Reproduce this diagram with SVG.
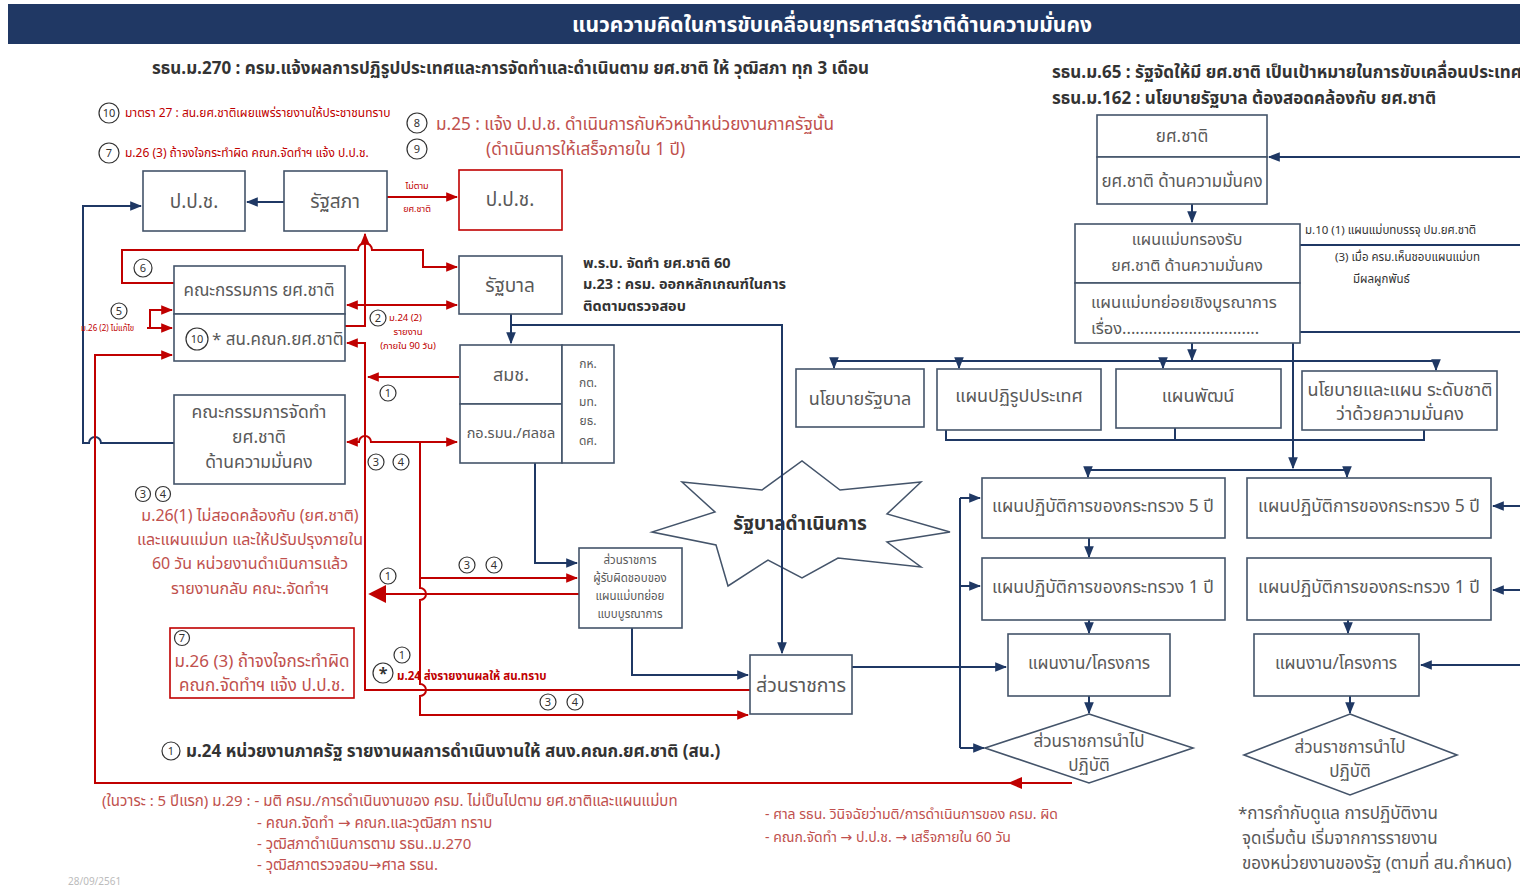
<svg xmlns="http://www.w3.org/2000/svg" width="1520" height="888" viewBox="0 0 1520 888">
<defs>
<style>
text{font-family:"Noto Sans Thai","Noto Sans Thai UI","Tahoma","DejaVu Sans","Noto Sans",sans-serif;fill:#595959}
.box{fill:#fff;stroke:#44546a;stroke-width:1.6}
.rbox{fill:#fff;stroke:#c00000;stroke-width:1.6}
.bt{font-size:17px;text-anchor:middle}
.hd{font-size:17px;font-weight:bold;fill:#333}
.rt{fill:#c0504d}
.rs{font-size:12px;fill:#c00000}
.nv{fill:none;stroke:#1f3864;stroke-width:2}
.rd{fill:none;stroke:#c00000;stroke-width:2}
.cn{fill:#fff;stroke:#333;stroke-width:1.2}
.cnt{font-size:11px;text-anchor:middle;fill:#333}
</style>
<marker id="an" viewBox="0 0 10 10" refX="9" refY="5" markerWidth="6" markerHeight="6" orient="auto-start-reverse"><path d="M0,1 L10,5 L0,9 z" fill="#1f3864"/></marker>
<marker id="ar" viewBox="0 0 10 10" refX="9" refY="5" markerWidth="6" markerHeight="6" orient="auto-start-reverse"><path d="M0,1 L10,5 L0,9 z" fill="#c00000"/></marker>
<marker id="arb" viewBox="0 0 10 10" refX="9" refY="5" markerWidth="9" markerHeight="9" orient="auto-start-reverse"><path d="M0,0 L10,5 L0,10 z" fill="#c00000"/></marker>
</defs>
<rect width="1520" height="888" fill="#fff"/>
<rect x="8" y="4" width="1512" height="40" fill="#203864"/>
<text x="832" y="32" style="font-size:21px;font-weight:bold;fill:#fff;text-anchor:middle">แนวความคิดในการขับเคลื่อนยุทธศาสตร์ชาติด้านความมั่นคง</text>

<text class="hd" x="152" y="74">รธน.ม.270 : ครม.แจ้งผลการปฏิรูปประเทศและการจัดทำและดำเนินตาม ยศ.ชาติ ให้ วุฒิสภา ทุก 3 เดือน</text>
<text class="hd" x="1052" y="78">รธน.ม.65 : รัฐจัดให้มี ยศ.ชาติ เป็นเป้าหมายในการขับเคลื่อนประเทศ</text>
<text class="hd" x="1052" y="104">รธน.ม.162 : นโยบายรัฐบาล ต้องสอดคล้องกับ ยศ.ชาติ</text>

<g id="notes-top">
<circle class="cn" cx="109" cy="113" r="10"/><text class="cnt" x="109" y="117">10</text>
<text class="rs" x="125" y="117">มาตรา 27 : สน.ยศ.ชาติเผยแพร่รายงานให้ประชาชนทราบ</text>
<circle class="cn" cx="109" cy="153" r="10"/><text class="cnt" x="109" y="157">7</text>
<text class="rs" x="125" y="157">ม.26 (3) ถ้าจงใจกระทำผิด คณก.จัดทำฯ แจ้ง ป.ป.ช.</text>
<circle class="cn" cx="417" cy="123" r="10"/><text class="cnt" x="417" y="127">8</text>
<text class="rt" x="436" y="130" style="font-size:17.2px">ม.25 : แจ้ง ป.ป.ช. ดำเนินการกับหัวหน้าหน่วยงานภาครัฐนั้น</text>
<circle class="cn" cx="417" cy="149" r="10"/><text class="cnt" x="417" y="153">9</text>
<text class="rt" x="486" y="155" style="font-size:17.2px">(ดำเนินการให้เสร็จภายใน 1 ปี)</text>
</g>

<g id="connectors">
<path class="nv" d="M284,202 H247" marker-end="url(#an)"/>
<path class="nv" d="M174,443 H101 a6,6 0 0 0 -12,0 H83 V206 H141" marker-end="url(#an)"/>
<path class="nv" d="M511,314 V343" marker-end="url(#an)"/>
<path class="nv" d="M511,325 H782 V653" marker-end="url(#an)"/>
<path class="nv" d="M535,463 V563 H577" marker-end="url(#an)"/>
<path class="nv" d="M632,628 V675 H748" marker-end="url(#an)"/>
<path class="nv" d="M852,667 H1006" marker-end="url(#an)"/>
<path class="nv" d="M960,498 V748"/>
<path class="nv" d="M960,498 H980" marker-end="url(#an)"/>
<path class="nv" d="M960,586 H980" marker-end="url(#an)"/>
<path class="nv" d="M960,748 H984" marker-end="url(#an)"/>
<path class="nv" d="M1520,157 H1269" marker-end="url(#an)"/>
<path class="nv" d="M1192,204 V222" marker-end="url(#an)"/>
<path class="nv" d="M1300,245 H1520"/>
<path class="nv" d="M1300,332 H1520"/>
<path class="nv" d="M1192,343 V360" marker-end="url(#an)"/>
<path class="nv" d="M834,361 H1437"/>
<path class="nv" d="M834,361 V368" marker-end="url(#an)"/>
<path class="nv" d="M959,361 V368" marker-end="url(#an)"/>
<path class="nv" d="M1163,361 V368" marker-end="url(#an)"/>
<path class="nv" d="M1436,361 V370" marker-end="url(#an)"/>
<path class="nv" d="M946,430 V440 H1424 V430 M1175,428 V440"/>
<path class="nv" d="M1293,343 V468" marker-end="url(#an)"/>
<path class="nv" d="M1088,470 H1347"/>
<path class="nv" d="M1088,470 V477" marker-end="url(#an)"/>
<path class="nv" d="M1347,470 V477" marker-end="url(#an)"/>
<path class="nv" d="M1089,538 V557" marker-end="url(#an)"/>
<path class="nv" d="M1089,620 V633" marker-end="url(#an)"/>
<path class="nv" d="M1089,696 V713" marker-end="url(#an)"/>
<path class="nv" d="M1348,620 V633" marker-end="url(#an)"/>
<path class="nv" d="M1350,696 V713" marker-end="url(#an)"/>
<path class="nv" d="M1520,506 H1493" marker-end="url(#an)"/>
<path class="nv" d="M1520,590 H1493" marker-end="url(#an)"/>
<path class="nv" d="M1520,665 H1421" marker-end="url(#an)"/>
<path class="rd" d="M387,197 H457" marker-end="url(#ar)"/>
<path class="rd" d="M174,283 H122 V250 H358 a7,7 0 0 1 14,0 H423 V267 H457" marker-end="url(#ar)"/>
<path class="rd" d="M345,326 H365 V234" marker-end="url(#ar)"/>
<path class="rd" d="M347,305 H457" marker-start="url(#ar)" marker-end="url(#ar)"/>
<path class="rd" d="M147,328 H172" marker-end="url(#ar)"/>
<path class="rd" d="M150,328 V310 H172" marker-end="url(#ar)"/>
<path class="rd" d="M1072,783 H95 V355 H172" marker-end="url(#ar)"/>
<path d="M1008,783 L1022,777 L1022,789 z" fill="#c00000"/>
<path class="rd" d="M459,377 H368" marker-end="url(#ar)"/>
<path class="rd" d="M347,442 H359 a6,6 0 0 1 12,0 H457" marker-start="url(#ar)" marker-end="url(#ar)"/>
<path class="rd" d="M420,442 V588 a6,6 0 0 1 0,12 V684 a6,6 0 0 1 0,12 V715 H748" marker-end="url(#ar)"/>
<path class="rd" d="M420,578 H577" marker-end="url(#ar)"/>
<path class="rd" d="M579,594 H370" marker-end="url(#arb)"/>
<path class="rd" d="M750,690 H365 V343 H347" marker-end="url(#ar)"/>
</g>

<g id="n-ppc1"><rect class="box" x="143" y="171" width="102" height="60"/><text class="bt" x="194" y="208" style="font-size:19px">ป.ป.ช.</text></g>
<g id="n-parl"><rect class="box" x="284" y="171" width="103" height="60"/><text class="bt" x="335" y="208" style="font-size:19px">รัฐสภา</text></g>
<g id="n-ppc2"><rect class="rbox" x="459" y="170" width="103" height="60"/><text class="bt" x="510" y="206" style="font-size:19px">ป.ป.ช.</text></g>
<g id="lbl-notfollow"><text class="rs" x="417" y="189" style="font-size:9px;text-anchor:middle">ไม่ตาม</text><text class="rs" x="417" y="212" style="font-size:9px;text-anchor:middle">ยศ.ชาติ</text></g>

<g id="n-cmte">
<rect class="box" x="174" y="266" width="171" height="48"/>
<rect class="box" x="174" y="314" width="171" height="47"/>
<text class="bt" x="259" y="296">คณะกรรมการ ยศ.ชาติ</text>
<circle class="cn" cx="197" cy="339" r="11"/><text class="cnt" x="197" y="343">10</text>
<text x="212" y="345" style="font-size:17px">* สน.คณก.ยศ.ชาติ</text>
</g>
<g id="lbl-6"><circle class="cn" cx="143" cy="268" r="9"/><text class="cnt" x="143" y="272">6</text></g>
<g id="lbl-5"><circle class="cn" cx="119" cy="311" r="8"/><text class="cnt" x="119" y="315">5</text><text class="rs" x="81" y="331" style="font-size:8px">ม.26 (2) ไม่แก้ไข</text></g>
<g id="lbl-2"><circle class="cn" cx="378" cy="318" r="8"/><text class="cnt" x="378" y="322">2</text>
<text class="rs" x="389" y="321" style="font-size:9.5px">ม.24 (2)</text>
<text class="rs" x="408" y="335" style="font-size:9.5px;text-anchor:middle">รายงาน</text>
<text class="rs" x="408" y="349" style="font-size:9.5px;text-anchor:middle">(ภายใน 90 วัน)</text></g>

<g id="n-gov"><rect class="box" x="459" y="256" width="103" height="58"/><text class="bt" x="510" y="292" style="font-size:19px">รัฐบาล</text></g>
<g id="txt-act">
<text class="hd" x="583" y="268" style="font-size:14.5px">พ.ร.บ. จัดทำ ยศ.ชาติ 60</text>
<text class="hd" x="583" y="289" style="font-size:14.5px">ม.23 : ครม. ออกหลักเกณฑ์ในการ</text>
<text class="hd" x="583" y="311" style="font-size:14.5px">ติดตามตรวจสอบ</text>
</g>

<g id="n-nsc">
<rect class="box" x="460" y="345" width="102" height="59"/>
<rect class="box" x="460" y="404" width="102" height="59"/>
<rect class="box" x="562" y="345" width="52" height="118"/>
<text class="bt" x="511" y="381" style="font-size:18px">สมช.</text>
<text class="bt" x="511" y="438" style="font-size:14.5px">กอ.รมน./ศลชล</text>
<text class="bt" x="588" y="368" style="font-size:12px">กห.</text>
<text class="bt" x="588" y="387" style="font-size:12px">กต.</text>
<text class="bt" x="588" y="406" style="font-size:12px">มท.</text>
<text class="bt" x="588" y="425" style="font-size:12px">ยธ.</text>
<text class="bt" x="588" y="445" style="font-size:12px">ดศ.</text>
</g>

<g id="n-drafting">
<rect class="box" x="174" y="395" width="171" height="89"/>
<text class="bt" x="259" y="418" style="font-size:17.5px">คณะกรรมการจัดทำ</text>
<text class="bt" x="259" y="443" style="font-size:17.5px">ยศ.ชาติ</text>
<text class="bt" x="259" y="468" style="font-size:17.5px">ด้านความมั่นคง</text>
</g>

<g id="lbls-mid">
<circle class="cn" cx="388" cy="393" r="8"/><text class="cnt" x="388" y="397">1</text>
<circle class="cn" cx="376" cy="462" r="8"/><text class="cnt" x="376" y="466">3</text>
<circle class="cn" cx="401" cy="462" r="8"/><text class="cnt" x="401" y="466">4</text>
<circle class="cn" cx="467" cy="565" r="8"/><text class="cnt" x="467" y="569">3</text>
<circle class="cn" cx="494" cy="565" r="8"/><text class="cnt" x="494" y="569">4</text>
<circle class="cn" cx="388" cy="576" r="8"/><text class="cnt" x="388" y="580">1</text>
<circle class="cn" cx="402" cy="655" r="8"/><text class="cnt" x="402" y="659">1</text>
<circle class="cn" cx="383" cy="673" r="10"/><text class="cnt" x="383" y="679" style="font-size:16px;font-weight:bold">*</text>
<text x="397" y="680" style="font-size:11.5px;fill:#c00000;font-weight:bold">ม.24 ส่งรายงานผลให้ สน.ทราบ</text>
<circle class="cn" cx="548" cy="702" r="8"/><text class="cnt" x="548" y="706">3</text>
<circle class="cn" cx="575" cy="702" r="8"/><text class="cnt" x="575" y="706">4</text>
</g>

<g id="note-34">
<circle class="cn" cx="143" cy="494" r="7.5"/><text class="cnt" x="143" y="498">3</text>
<circle class="cn" cx="163" cy="494" r="7.5"/><text class="cnt" x="163" y="498">4</text>
<text class="rt bt" x="250" y="521" style="font-size:16px">ม.26(1) ไม่สอดคล้องกับ (ยศ.ชาติ)</text>
<text class="rt bt" x="250" y="545" style="font-size:16px">และแผนแม่บท และให้ปรับปรุงภายใน</text>
<text class="rt bt" x="250" y="569" style="font-size:16px">60 วัน หน่วยงานดำเนินการแล้ว</text>
<text class="rt bt" x="250" y="594" style="font-size:16px">รายงานกลับ คณะ.จัดทำฯ</text>
</g>

<g id="n-note7">
<rect class="rbox" x="170" y="628" width="184" height="70"/>
<circle class="cn" cx="182" cy="638" r="7.5"/><text class="cnt" x="182" y="642">7</text>
<text class="rt bt" x="262" y="667" style="font-size:17px">ม.26 (3) ถ้าจงใจกระทำผิด</text>
<text class="rt bt" x="262" y="691" style="font-size:17px">คณก.จัดทำฯ แจ้ง ป.ป.ช.</text>
</g>

<g id="n-resp">
<rect class="box" x="579" y="548" width="103" height="80"/>
<text class="bt" x="630" y="564" style="font-size:11.5px">ส่วนราชการ</text>
<text class="bt" x="630" y="582" style="font-size:11.5px">ผู้รับผิดชอบของ</text>
<text class="bt" x="630" y="600" style="font-size:11.5px">แผนแม่บทย่อย</text>
<text class="bt" x="630" y="618" style="font-size:11.5px">แบบบูรณาการ</text>
</g>

<g id="n-star">
<path d="M950,532 L887,542 L921,567 L838,558 L802,578 L768,560 L728,586 L716,545 L652,532 L715,512 L682,482 L762,490 L802,461 L840,490 L921,482 L887,514 Z" fill="#fff" stroke="#44546a" stroke-width="1.5" fill-opacity="0.6"/>
<text x="800" y="530" style="font-size:19px;font-weight:bold;text-anchor:middle;fill:#333">รัฐบาลดำเนินการ</text>
</g>
<path class="nv" d="M782,460 V590"/>

<g id="n-agency"><rect class="box" x="750" y="655" width="102" height="59"/><text class="bt" x="801" y="692" style="font-size:19.5px">ส่วนราชการ</text></g>

<g id="n-ysc">
<rect class="box" x="1097" y="115" width="170" height="42"/>
<rect class="box" x="1097" y="157" width="170" height="47"/>
<text class="bt" x="1182" y="142" style="font-size:17px">ยศ.ชาติ</text>
<text class="bt" x="1182" y="187" style="font-size:17px">ยศ.ชาติ ด้านความมั่นคง</text>
</g>
<g id="n-master">
<rect class="box" x="1075" y="224" width="225" height="59"/>
<rect class="box" x="1075" y="283" width="225" height="60"/>
<text class="bt" x="1187" y="245" style="font-size:16px">แผนแม่บทรองรับ</text>
<text class="bt" x="1187" y="271" style="font-size:16px">ยศ.ชาติ ด้านความมั่นคง</text>
<text x="1091" y="308" style="font-size:16.5px">แผนแม่บทย่อยเชิงบูรณาการ</text>
<text x="1091" y="334" style="font-size:16.5px">เรื่อง...............................</text>
</g>
<g id="lbl-m10">
<text x="1305" y="234" style="font-size:11.5px;fill:#333">ม.10 (1) แผนแม่บทบรรจุ ปม.ยศ.ชาติ</text>
<text x="1335" y="261" style="font-size:11.5px;fill:#333">(3) เมื่อ ครม.เห็นชอบแผนแม่บท</text>
<text x="1353" y="283" style="font-size:11.5px;fill:#333">มีผลผูกพันธ์</text>
</g>

<g id="n-govpol"><rect class="box" x="796" y="369" width="128" height="58"/><text class="bt" x="860" y="405" style="font-size:18px">นโยบายรัฐบาล</text></g>
<g id="n-reform"><rect class="box" x="937" y="369" width="164" height="61"/><text class="bt" x="1019" y="402" style="font-size:18px">แผนปฏิรูปประเทศ</text></g>
<g id="n-dev"><rect class="box" x="1116" y="369" width="165" height="59"/><text class="bt" x="1198" y="402" style="font-size:18px">แผนพัฒน์</text></g>
<g id="n-natsec"><rect class="box" x="1302" y="371" width="195" height="59"/><text class="bt" x="1400" y="396" style="font-size:18px">นโยบายและแผน ระดับชาติ</text><text class="bt" x="1400" y="420" style="font-size:18px">ว่าด้วยความมั่นคง</text></g>

<g id="n-p5l"><rect class="box" x="982" y="478" width="243" height="60"/><text class="bt" x="1103" y="512" style="font-size:17.5px">แผนปฏิบัติการของกระทรวง 5 ปี</text></g>
<g id="n-p5r"><rect class="box" x="1247" y="478" width="244" height="60"/><text class="bt" x="1369" y="512" style="font-size:17.5px">แผนปฏิบัติการของกระทรวง 5 ปี</text></g>
<g id="n-p1l"><rect class="box" x="982" y="558" width="243" height="62"/><text class="bt" x="1103" y="593" style="font-size:17.5px">แผนปฏิบัติการของกระทรวง 1 ปี</text></g>
<g id="n-p1r"><rect class="box" x="1247" y="558" width="244" height="62"/><text class="bt" x="1369" y="593" style="font-size:17.5px">แผนปฏิบัติการของกระทรวง 1 ปี</text></g>
<g id="n-projl"><rect class="box" x="1008" y="634" width="162" height="62"/><text class="bt" x="1089" y="669" style="font-size:17px">แผนงาน/โครงการ</text></g>
<g id="n-projr"><rect class="box" x="1254" y="634" width="165" height="62"/><text class="bt" x="1336" y="669" style="font-size:17px">แผนงาน/โครงการ</text></g>
<g id="n-dl"><path class="box" d="M1089,714 L1193,748 L1089,783 L985,748 Z"/><text class="bt" x="1089" y="747" style="font-size:17px">ส่วนราชการนำไป</text><text class="bt" x="1089" y="771" style="font-size:17px">ปฏิบัติ</text></g>
<g id="n-dr"><path class="box" d="M1350,714 L1457,755 L1350,795 L1244,755 Z"/><text class="bt" x="1350" y="753" style="font-size:17px">ส่วนราชการนำไป</text><text class="bt" x="1350" y="777" style="font-size:17px">ปฏิบัติ</text></g>

<g id="notes-bottom">
<circle class="cn" cx="171" cy="751" r="9"/><text class="cnt" x="171" y="755">1</text>
<text class="hd" x="186" y="757" style="font-size:17px">ม.24 หน่วยงานภาครัฐ รายงานผลการดำเนินงานให้ สนง.คณก.ยศ.ชาติ (สน.)</text>
<text class="rt" x="102" y="806" style="font-size:15px">(ในวาระ : 5 ปีแรก) ม.29 : - มติ ครม./การดำเนินงานของ ครม. ไม่เป็นไปตาม ยศ.ชาติและแผนแม่บท</text>
<text class="rt" x="257" y="828" style="font-size:15px">- คณก.จัดทำ → คณก.และวุฒิสภา ทราบ</text>
<text class="rt" x="257" y="849" style="font-size:15px">- วุฒิสภาดำเนินการตาม รธน..ม.270</text>
<text class="rt" x="257" y="870" style="font-size:15px">- วุฒิสภาตรวจสอบ→ศาล รธน.</text>
<text class="rt" x="765" y="819" style="font-size:14px">- ศาล รธน. วินิจฉัยว่ามติ/การดำเนินการของ ครม. ผิด</text>
<text class="rt" x="765" y="842" style="font-size:14px">- คณก.จัดทำ → ป.ป.ช. → เสร็จภายใน 60 วัน</text>
<text x="68" y="885" style="font-size:10px;fill:#bbb">28/09/2561</text>
<text x="1238" y="819" style="font-size:17px">*การกำกับดูแล การปฏิบัติงาน</text>
<text x="1242" y="844" style="font-size:17px">จุดเริ่มต้น เริ่มจากการรายงาน</text>
<text x="1242" y="869" style="font-size:17px">ของหน่วยงานของรัฐ (ตามที่ สน.กำหนด)</text>
</g>
</svg>
